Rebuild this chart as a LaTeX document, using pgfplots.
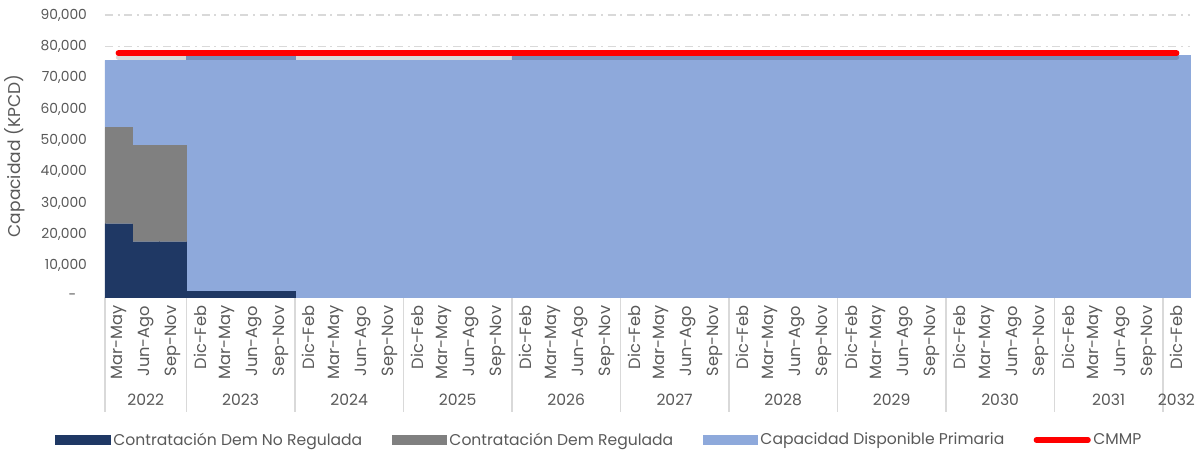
\documentclass[border=0pt]{standalone}
\usepackage{fontspec}
\setmainfont{Poppins}
\usepackage{pgfplots}
\usepackage{pgfplotstable}
\pgfplotsset{compat=1.18}
\definecolor{navy}{HTML}{1F3864}
\definecolor{grayreg}{HTML}{808080}
\definecolor{lblue}{HTML}{8EA9DB}
\definecolor{txt}{HTML}{595959}
\definecolor{gridc}{HTML}{D9D9D9}
\newcommand{\fs}{\fontsize{10.4}{12}\selectfont}
\newcommand{\fx}{\fontsize{12.2}{14}\selectfont}
\newcommand{\fl}{\fontsize{11.7}{13}\selectfont}
\newcommand{\fyl}{\fontsize{12.8}{14}\selectfont}

\pgfplotstableread{
x nr reg cap cmmp
0 23400 30700 21400 77800
1 17650 30700 27150 77800
2 17650 30700 27150 77800
3 1900 0 75300 77800
4 1900 0 75300 77800
5 1900 0 75300 77800
6 1900 0 75300 77800
7 0 0 75500 77800
8 0 0 75500 77800
9 0 0 75500 77800
10 0 0 75500 77800
11 0 0 75500 77800
12 0 0 75500 77800
13 0 0 75500 77800
14 0 0 75500 77800
15 0 0 77200 77800
16 0 0 77200 77800
17 0 0 77200 77800
18 0 0 77200 77800
19 0 0 77200 77800
20 0 0 77200 77800
21 0 0 77200 77800
22 0 0 77200 77800
23 0 0 77200 77800
24 0 0 77200 77800
25 0 0 77200 77800
26 0 0 77200 77800
27 0 0 77200 77800
28 0 0 77200 77800
29 0 0 77200 77800
30 0 0 77200 77800
31 0 0 77200 77800
32 0 0 77200 77800
33 0 0 77200 77800
34 0 0 77200 77800
35 0 0 77200 77800
36 0 0 77200 77800
37 0 0 77200 77800
38 0 0 77200 77800
39 0 0 77200 77800
}\datatable

\begin{document}
\begin{tikzpicture}
\path[use as bounding box] (-78.75pt,-118.5pt) rectangle (819.75pt,222.75pt);
\begin{axis}[
  at={(0pt,0pt)}, anchor=south west,
  scale only axis, width=813.75pt, height=211.5pt,
  xmin=-0.5, xmax=39.5, ymin=0, ymax=90000,
  ybar stacked, bar width=1,
  clip=false,
  scaled y ticks=false,
  axis lines*=left,
  x axis line style={draw=gridc, line width=1pt, -},
  y axis line style={draw=none},
  major tick length=0pt,
  ytick={0,10000,...,90000},
  yticklabels={{-\hspace*{8pt}},{10,000},{20,000},{30,000},{40,000},{50,000},{60,000},{70,000},{80,000},{90,000}},
  yticklabel style={font=\fs, text=txt},
  yticklabel shift=10pt,
  ymajorgrids,
  grid style={draw=gridc, line width=1.1pt, dash pattern=on 6pt off 3.5pt on 1.5pt off 3.5pt},
  xtick={0,...,39},
  xticklabels={Mar-May,Jun-Ago,Sep-Nov,
    Dic-Feb,Mar-May,Jun-Ago,Sep-Nov,
    Dic-Feb,Mar-May,Jun-Ago,Sep-Nov,
    Dic-Feb,Mar-May,Jun-Ago,Sep-Nov,
    Dic-Feb,Mar-May,Jun-Ago,Sep-Nov,
    Dic-Feb,Mar-May,Jun-Ago,Sep-Nov,
    Dic-Feb,Mar-May,Jun-Ago,Sep-Nov,
    Dic-Feb,Mar-May,Jun-Ago,Sep-Nov,
    Dic-Feb,Mar-May,Jun-Ago,Sep-Nov,
    Dic-Feb,Mar-May,Jun-Ago,Sep-Nov,
    Dic-Feb},
  xticklabel style={rotate=90, anchor=east, font=\fx, text=txt},
  xticklabel shift=3pt,
  extra x ticks={-0.5,2.5,6.5,10.5,14.5,18.5,22.5,26.5,30.5,34.5,38.5},
  extra x tick labels={},
  extra x tick style={grid=none, tick align=outside, major tick length=86pt,
    major tick style={draw=gridc, line width=1.2pt}},
  every axis y label/.style={at={(axis description cs:-0.083,0.5)}, rotate=90, anchor=center, font=\fyl, text=txt},
  ylabel={Capacidad (KPCD)},
  legend columns=4,
  legend style={at={(axis description cs:0.456,-0.507)}, anchor=center, draw=none, fill=none,
    font=\fl, text=txt, /tikz/every even column/.append style={column sep=20pt}},
]
\addplot[fill=navy, draw=navy, line width=0.2pt, forget plot] table[x=x, y=nr] {\datatable};
\addplot[fill=grayreg, draw=grayreg, line width=0.2pt, forget plot] table[x=x, y=reg] {\datatable};
\addplot[fill=lblue, draw=lblue, line width=0.2pt, forget plot] table[x=x, y=cap] {\datatable};

\addlegendimage{legend image code/.code={\fill[navy] (0pt,-3.5pt) rectangle (41pt,3.5pt);}}
\addlegendentry{Contratación Dem No Regulada}
\addlegendimage{legend image code/.code={\fill[grayreg] (0pt,-3.5pt) rectangle (41pt,3.5pt);}}
\addlegendentry{Contratación Dem Regulada}
\addlegendimage{legend image code/.code={\fill[lblue] (0pt,-3.5pt) rectangle (41pt,3.5pt);}}
\addlegendentry{Capacidad Disponible Primaria}
\addlegendimage{legend image code/.code={\draw[red, line width=3.8pt, line cap=round] (2pt,0pt) -- (41pt,0pt);}}
\addlegendentry{CMMP}

\node[font=\fl, text=txt] at (axis cs:1,0) [yshift=-77pt] {2022};
\node[font=\fl, text=txt] at (axis cs:4.5,0) [yshift=-77pt] {2023};
\node[font=\fl, text=txt] at (axis cs:8.5,0) [yshift=-77pt] {2024};
\node[font=\fl, text=txt] at (axis cs:12.5,0) [yshift=-77pt] {2025};
\node[font=\fl, text=txt] at (axis cs:16.5,0) [yshift=-77pt] {2026};
\node[font=\fl, text=txt] at (axis cs:20.5,0) [yshift=-77pt] {2027};
\node[font=\fl, text=txt] at (axis cs:24.5,0) [yshift=-77pt] {2028};
\node[font=\fl, text=txt] at (axis cs:28.5,0) [yshift=-77pt] {2029};
\node[font=\fl, text=txt] at (axis cs:32.5,0) [yshift=-77pt] {2030};
\node[font=\fl, text=txt] at (axis cs:36.5,0) [yshift=-77pt] {2031};
\node[font=\fl, text=txt] at (axis cs:39,0) [yshift=-77pt] {2032};
\end{axis}
\begin{axis}[
  at={(0pt,0pt)}, anchor=south west,
  scale only axis, width=813.75pt, height=211.5pt,
  xmin=-0.5, xmax=39.5, ymin=0, ymax=90000,
  hide axis, clip=false,
]
\addplot[black, opacity=0.15, line width=4pt, line cap=round, yshift=-3pt] table[x=x, y=cmmp] {\datatable};
\addplot[red, line width=4.5pt, line cap=round] table[x=x, y=cmmp] {\datatable};
\end{axis}
\end{tikzpicture}
\end{document}
